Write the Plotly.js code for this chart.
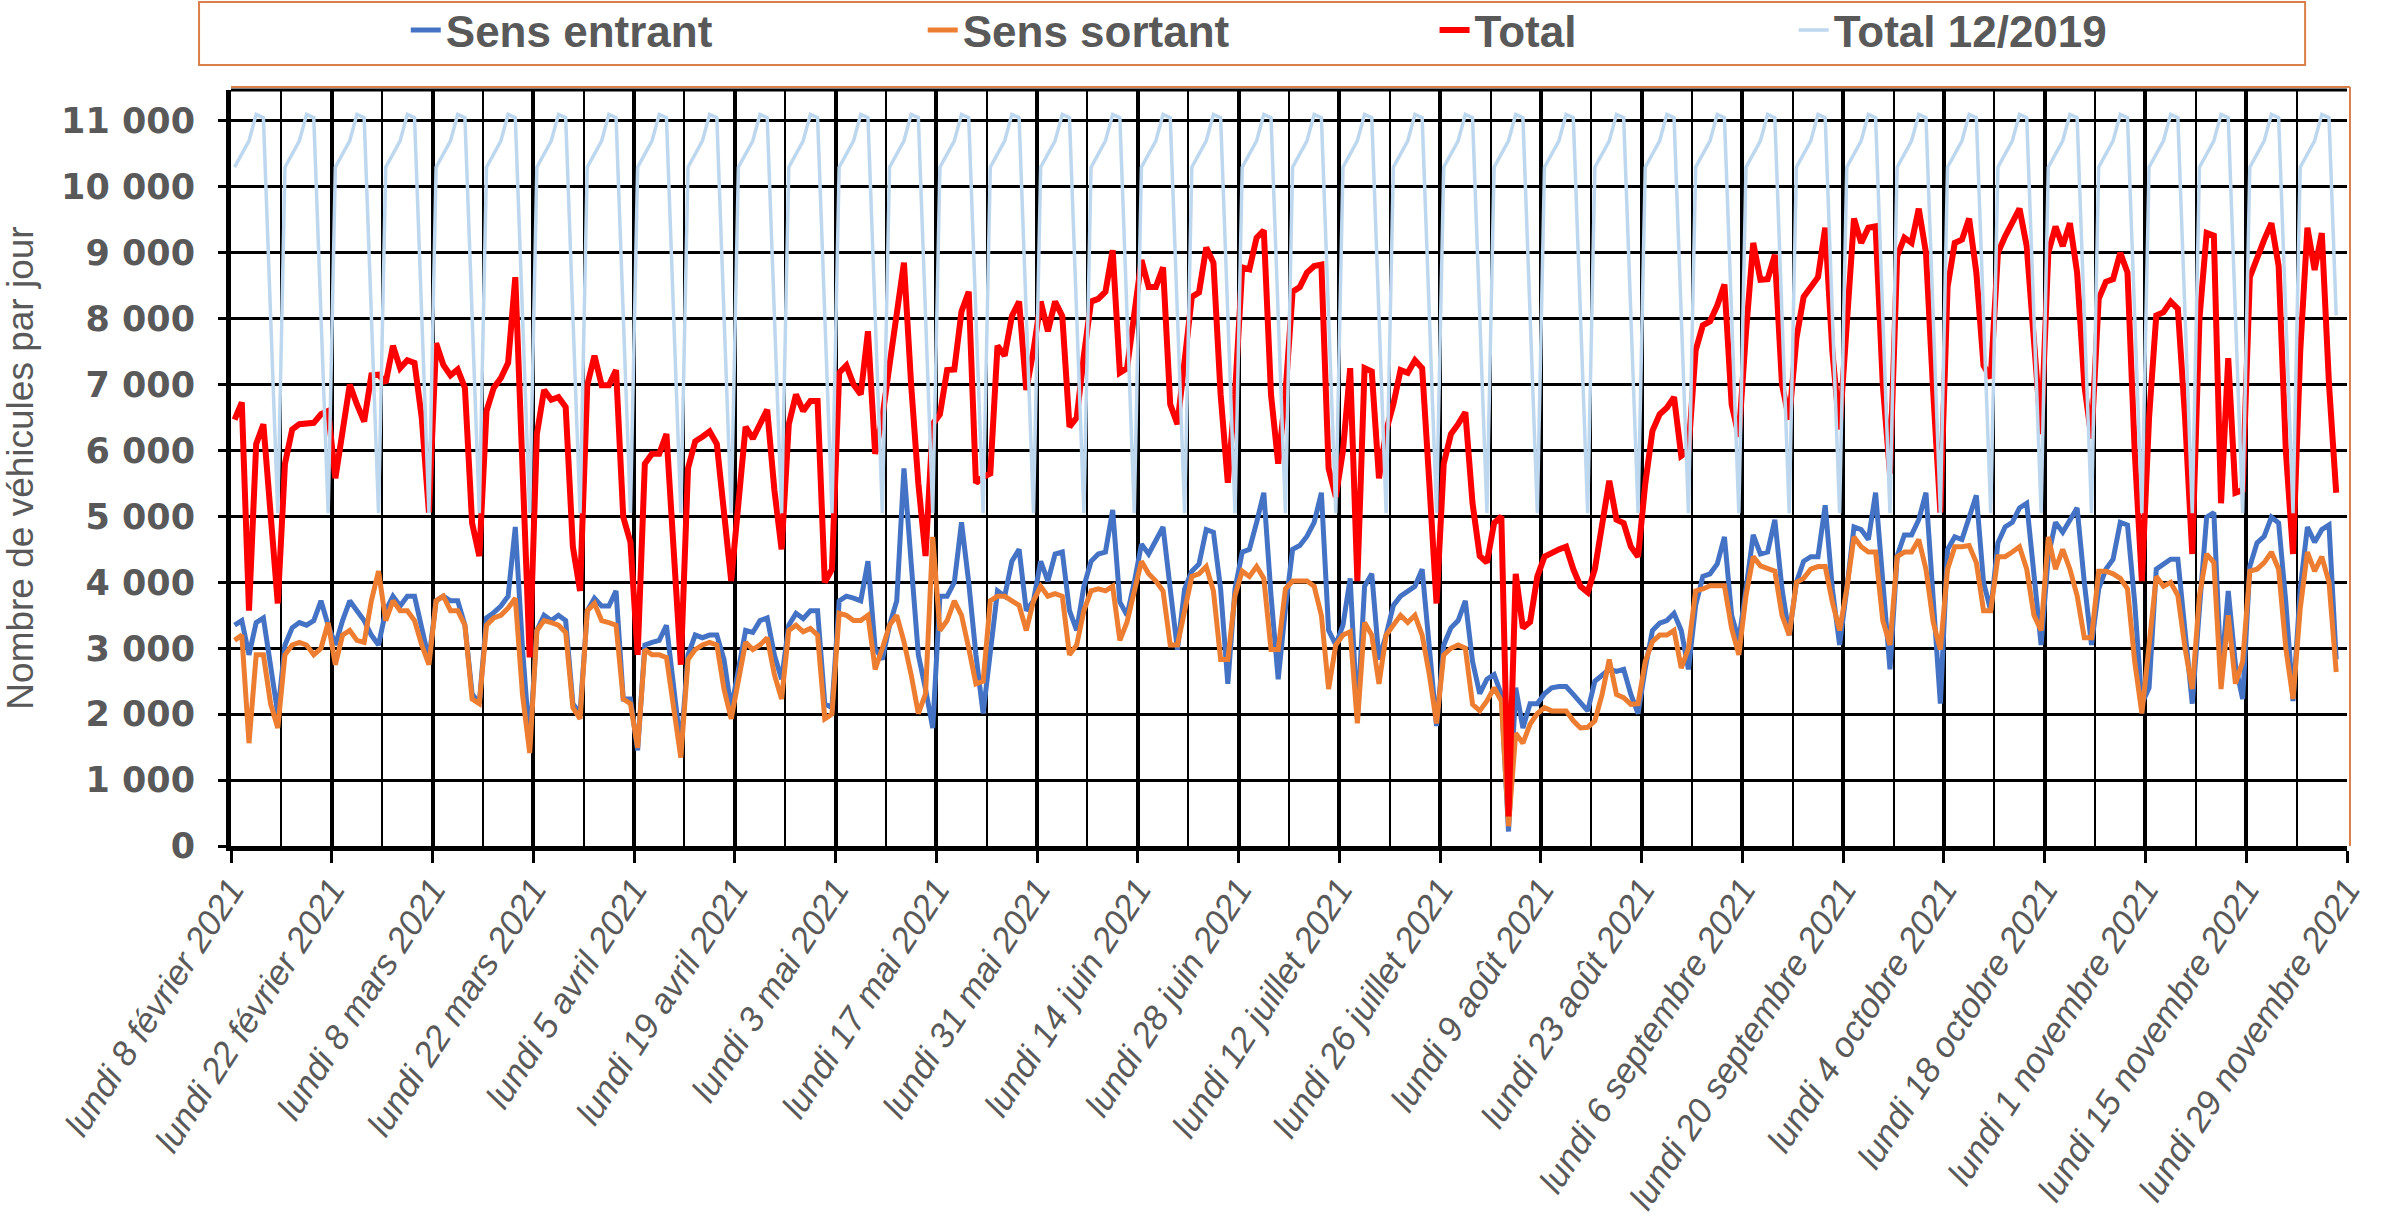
<!DOCTYPE html>
<html><head><meta charset="utf-8">
<script src="https://cdn.plot.ly/plotly-3.0.1.min.js"></script>
<style>body{margin:0;background:#fff}#chart{width:2387px;height:1232px}</style>
</head><body><div id="chart"></div>
<script>
const tickLabels = ["lundi 8 février 2021","lundi 22 février 2021","lundi 8 mars 2021","lundi 22 mars 2021","lundi 5 avril 2021","lundi 19 avril 2021","lundi 3 mai 2021","lundi 17 mai 2021","lundi 31 mai 2021","lundi 14 juin 2021","lundi 28 juin 2021","lundi 12 juillet 2021","lundi 26 juillet 2021","lundi 9 août 2021","lundi 23 août 2021","lundi 6 septembre 2021","lundi 20 septembre 2021","lundi 4 octobre 2021","lundi 18 octobre 2021","lundi 1 novembre 2021","lundi 15 novembre 2021","lundi 29 novembre 2021"];
const yTickVals = [0,1000,2000,3000,4000,5000,6000,7000,8000,9000,10000,11000];
const yTickText = ["0","1 000","2 000","3 000","4 000","5 000","6 000","7 000","8 000","9 000","10 000","11 000"];

const sensEntrant = [
3350,3420,2900,3390,3460,2700,2010,
3050,3310,3390,3350,3420,3720,3350,
3050,3420,3720,3570,3420,3200,3050,
3570,3790,3640,3790,3790,3270,2830,
3720,3790,3720,3720,3350,2310,2160,
3460,3540,3640,3790,4840,3000,1560,
3270,3500,3420,3500,3420,2160,2010,
3570,3760,3640,3640,3870,2230,2230,
1450,3050,3090,3120,3350,2460,1490,
2900,3200,3160,3200,3200,2830,2080,
2700,3270,3240,3420,3460,2900,2530,
3350,3530,3450,3570,3570,2160,2100,
3720,3790,3760,3720,4320,3000,2830,
3350,3720,5730,4300,2900,2380,1790,
3790,3790,4000,4910,4000,2900,2010,
3000,3870,3790,4320,4500,3570,3720,
4320,4020,4430,4460,3570,3270,3940,
4320,4430,4460,5100,3700,3500,4000,
4580,4430,4620,4840,3900,2980,3900,
4170,4280,4800,4760,3900,2460,3900,
4460,4500,4910,5360,3800,2530,3600,
4500,4560,4700,4910,5360,3270,3050,
3350,4060,1930,3940,4130,2830,3200,
3650,3790,3870,3940,4200,3000,1820,
3050,3310,3420,3720,2800,2310,2530,
2600,2300,220,2400,1790,2160,2160,
2310,2400,2420,2420,2300,2160,2050,
2500,2600,2680,2650,2680,2300,2010,
2700,3270,3380,3420,3530,3270,2680,
3650,4090,4130,4280,4690,3500,3120,
3900,4720,4430,4460,4950,3900,3200,
4000,4320,4390,4390,5170,3900,3050,
3900,4840,4800,4650,5360,4000,2680,
4400,4720,4720,4950,5360,3700,2160,
4500,4690,4650,4970,5320,4000,3570,
4600,4840,4910,5130,5200,4100,3050,
4400,4910,4760,4950,5130,4000,3050,
3900,4200,4350,4910,4870,3700,2160,
2400,4200,4270,4350,4350,3300,2160,
3600,4990,5060,2600,3870,2750,2230,
4240,4600,4700,4990,4900,3700,2200,
3900,4840,4610,4800,4870,2830];

const sensSortant = [
3120,3200,1560,2900,2900,2160,1790,
2900,3050,3090,3050,2900,3000,3390,
2750,3200,3270,3120,3090,3720,4170,
3420,3720,3570,3570,3420,3050,2750,
3720,3790,3570,3570,3350,2230,2160,
3350,3460,3500,3610,3760,2300,1410,
3270,3420,3390,3350,3240,2100,1930,
3570,3680,3420,3390,3350,2230,2160,
1490,2980,2900,2900,2860,2160,1340,
2830,2980,3050,3090,3050,2380,1930,
2500,3090,2980,3050,3160,2600,2230,
3270,3350,3250,3300,3200,1930,2000,
3530,3500,3420,3420,3500,2680,3000,
3350,3500,3100,2600,2010,2310,4690,
3270,3420,3720,3500,3000,2460,2500,
3720,3790,3790,3720,3650,3270,3720,
3940,3790,3830,3790,2900,3050,3570,
3870,3900,3870,3940,3120,3400,3870,
4320,4130,4020,3870,3050,3050,3570,
4090,4130,4240,3870,2830,2830,3800,
4170,4090,4240,4060,2980,2980,3900,
4020,4020,4020,3940,3500,2380,3050,
3200,3250,1860,3390,3200,2460,3200,
3350,3500,3390,3500,3200,2600,1860,
2900,3000,3050,3000,2150,2050,2200,
2400,2200,300,1710,1560,1850,2010,
2100,2050,2050,2050,1900,1790,1800,
1900,2300,2830,2300,2250,2150,2160,
2800,3100,3200,3200,3270,2700,3000,
3870,3900,3950,3950,3950,3300,2900,
3800,4390,4250,4200,4170,3500,3200,
4000,4060,4200,4240,4240,3700,3270,
3900,4690,4540,4460,4460,3420,3050,
4390,4460,4460,4650,4200,3400,2980,
4200,4540,4540,4560,4300,3570,3570,
4390,4390,4460,4540,4200,3500,3270,
4690,4200,4500,4200,3800,3160,3160,
4170,4170,4130,4060,3900,2800,2010,
3000,4090,3940,4000,3800,3000,2380,
3800,4430,4300,2380,3500,2460,2800,
4170,4200,4300,4460,4200,3000,2230,
3600,4460,4170,4390,4000,2640];

const total = [
6470,6730,3570,6100,6400,5000,3680,
5800,6320,6400,6400,6420,6550,6600,
5580,6250,7000,6700,6440,7140,7150,
7030,7590,7250,7370,7330,6500,5060,
7630,7300,7140,7230,6950,4900,4400,
6600,6950,7100,7330,8630,5800,2860,
6250,6920,6770,6810,6660,4540,3870,
6990,7440,6990,6990,7220,4990,4610,
2900,5800,5950,5950,6250,4390,2750,
5730,6140,6210,6290,6100,5130,4020,
5200,6360,6180,6400,6620,5400,4500,
6400,6850,6600,6750,6750,4000,4200,
7180,7290,7000,6850,7810,5950,6500,
7300,8100,8850,7000,5500,4400,6400,
6550,7220,7230,8110,8410,5510,5600,
5650,7590,7440,8040,8260,6920,7520,
8260,7810,8260,8040,6360,6500,7440,
8260,8300,8410,9040,7180,7250,8000,
8890,8480,8480,8780,6700,6400,7300,
8330,8400,9080,8850,6850,5510,6850,
8780,8750,9230,9340,6850,5800,6850,
8410,8480,8700,8800,8820,5730,5300,
6000,7250,4020,7250,7200,5580,6300,
6700,7220,7180,7370,7250,5500,3680,
5800,6250,6400,6580,5200,4400,4300,
4900,5000,450,4130,3310,3400,4090,
4390,4450,4500,4540,4200,3940,3850,
4200,4900,5540,4950,4900,4540,4390,
5500,6300,6550,6650,6810,5920,6000,
7520,7900,7960,8200,8520,6700,6210,
7800,9150,8590,8600,8970,7000,6470,
7700,8330,8480,8630,9380,7500,6320,
8000,9520,9150,9380,9400,7000,5650,
8950,9230,9150,9670,9000,6900,5060,
8480,9150,9200,9520,8700,7290,7100,
9000,9250,9450,9670,9100,7700,6250,
9000,9400,9100,9450,8700,7000,6180,
8300,8560,8600,9000,8700,6000,4020,
6500,8050,8100,8260,8150,6500,4430,
8000,9300,9260,5200,7400,5360,5400,
8630,8930,9200,9450,8800,6000,4430,
7500,9380,8740,9300,7000,5360];

const total2019 = [
10300,10500,10700,11100,11050,8050,5050,
10300,10500,10700,11100,11050,8050,5050,
10300,10500,10700,11100,11050,8050,5050,
10300,10500,10700,11100,11050,8050,5050,
10300,10500,10700,11100,11050,8050,5050,
10300,10500,10700,11100,11050,8050,5050,
10300,10500,10700,11100,11050,8050,5050,
10300,10500,10700,11100,11050,8050,5050,
10300,10500,10700,11100,11050,8050,5050,
10300,10500,10700,11100,11050,8050,5050,
10300,10500,10700,11100,11050,8050,5050,
10300,10500,10700,11100,11050,8050,5050,
10300,10500,10700,11100,11050,8050,5050,
10300,10500,10700,11100,11050,8050,5050,
10300,10500,10700,11100,11050,8050,5050,
10300,10500,10700,11100,11050,8050,5050,
10300,10500,10700,11100,11050,8050,5050,
10300,10500,10700,11100,11050,8050,5050,
10300,10500,10700,11100,11050,8050,5050,
10300,10500,10700,11100,11050,8050,5050,
10300,10500,10700,11100,11050,8050,5050,
10300,10500,10700,11100,11050,8050,5050,
10300,10500,10700,11100,11050,8050,5050,
10300,10500,10700,11100,11050,8050,5050,
10300,10500,10700,11100,11050,8050,5050,
10300,10500,10700,11100,11050,8050,5050,
10300,10500,10700,11100,11050,8050,5050,
10300,10500,10700,11100,11050,8050,5050,
10300,10500,10700,11100,11050,8050,5050,
10300,10500,10700,11100,11050,8050,5050,
10300,10500,10700,11100,11050,8050,5050,
10300,10500,10700,11100,11050,8050,5050,
10300,10500,10700,11100,11050,8050,5050,
10300,10500,10700,11100,11050,8050,5050,
10300,10500,10700,11100,11050,8050,5050,
10300,10500,10700,11100,11050,8050,5050,
10300,10500,10700,11100,11050,8050,5050,
10300,10500,10700,11100,11050,8050,5050,
10300,10500,10700,11100,11050,8050,5050,
10300,10500,10700,11100,11050,8050,5050,
10300,10500,10700,11100,11050,8050,5050,
10300,10500,10700,11100,11050,8050];

// one point per day, centred in its day slot (day 0 = lundi 8 février 2021)
const days = total.map((_, i) => i + 0.5);
const tickVals = tickLabels.map((_, i) => i * 14);
const minorVals = tickLabels.slice(0, -1).map((_, i) => i * 14 + 7);

const legendBase = {
  orientation: 'h', yanchor: 'middle', xanchor: 'left', y: 1.079,
  bgcolor: 'rgba(0,0,0,0)', borderwidth: 0, itemwidth: 30,
  font: {family: 'Liberation Sans, Arial, sans-serif', size: 44, color: '#595959', weight: 'bold'}
};

const traces = [
  {x: days, y: sensEntrant, name: 'Sens entrant', mode: 'lines', line: {color: '#4472C4', width: 5}, legend: 'legend'},
  {x: days, y: sensSortant, name: 'Sens sortant', mode: 'lines', line: {color: '#ED7D31', width: 5}, legend: 'legend2'},
  {x: days, y: total, name: 'Total', mode: 'lines', line: {color: '#FF0000', width: 6}, legend: 'legend3'},
  {x: days, y: total2019, name: 'Total 12/2019', mode: 'lines', line: {color: '#BDD7EE', width: 3.5}, legend: 'legend4'}
];

const layout = {
  width: 2387, height: 1232,
  margin: {l: 231, r: 40, t: 90, b: 386, pad: 0, autoexpand: false},
  paper_bgcolor: '#ffffff', plot_bgcolor: '#ffffff',
  showlegend: true,
  legend: Object.assign({}, legendBase, {x: 0.0826}),
  legend2: Object.assign({}, legendBase, {x: 0.3269}),
  legend3: Object.assign({}, legendBase, {x: 0.5688}),
  legend4: Object.assign({}, legendBase, {x: 0.7385}),
  xaxis: {
    range: [0, 294], tickmode: 'array', tickvals: tickVals, ticktext: tickLabels,
    tickangle: -57,
    tickfont: {family: 'Liberation Sans, Arial, sans-serif', size: 35, color: '#595959', style: 'italic'},
    showgrid: true, gridcolor: '#000', gridwidth: 4,
    showline: true, linecolor: '#000', linewidth: 5,
    ticks: 'outside', ticklen: 12, tickwidth: 3, tickcolor: '#000',
    ticklabelstandoff: -8,
    zeroline: false, fixedrange: true, automargin: false,
    minor: {tickmode: 'array', tickvals: minorVals, showgrid: true, gridcolor: '#000', gridwidth: 2,
            ticks: 'inside', ticklen: 8, tickwidth: 2, tickcolor: '#000'}
  },
  yaxis: {
    range: [0, 11470], tickmode: 'array', tickvals: yTickVals, ticktext: yTickText,
    tickfont: {family: 'DejaVu Sans, sans-serif', size: 35, color: '#595959', weight: 'bold'},
    showgrid: true, gridcolor: '#000', gridwidth: 3,
    showline: true, linecolor: '#000', linewidth: 5,
    ticks: 'outside', ticklen: 8, tickwidth: 3, tickcolor: '#000',
    ticklabelstandoff: 16, zeroline: false, fixedrange: true, automargin: false,
    title: {text: 'Nombre de véhicules par jour', standoff: 24,
            font: {family: 'Liberation Sans Narrow, Liberation Sans, Arial, sans-serif', size: 37, color: '#595959'}}
  },
  shapes: [
    {type: 'rect', xref: 'paper', yref: 'paper', x0: -0.0151, x1: 0.9802, y0: 1.0331, y1: 1.1164,
     line: {color: '#D9804A', width: 2}, fillcolor: 'rgba(0,0,0,0)'},
    {type: 'line', xref: 'paper', yref: 'paper', x0: 0, x1: 1, y0: 1, y1: 1, line: {color: '#000', width: 3}},
    {type: 'line', xref: 'paper', yref: 'paper', x0: 0, x1: 1.0014, y0: 1.004, y1: 1.004, line: {color: '#D9804A', width: 2}},
    {type: 'line', xref: 'paper', yref: 'paper', x0: 1.0014, x1: 1.0014, y0: 0, y1: 1.004, line: {color: '#D9804A', width: 2}}
  ]
};

Plotly.newPlot('chart', traces, layout, {staticPlot: true, displayModeBar: false});
</script>
</body></html>
